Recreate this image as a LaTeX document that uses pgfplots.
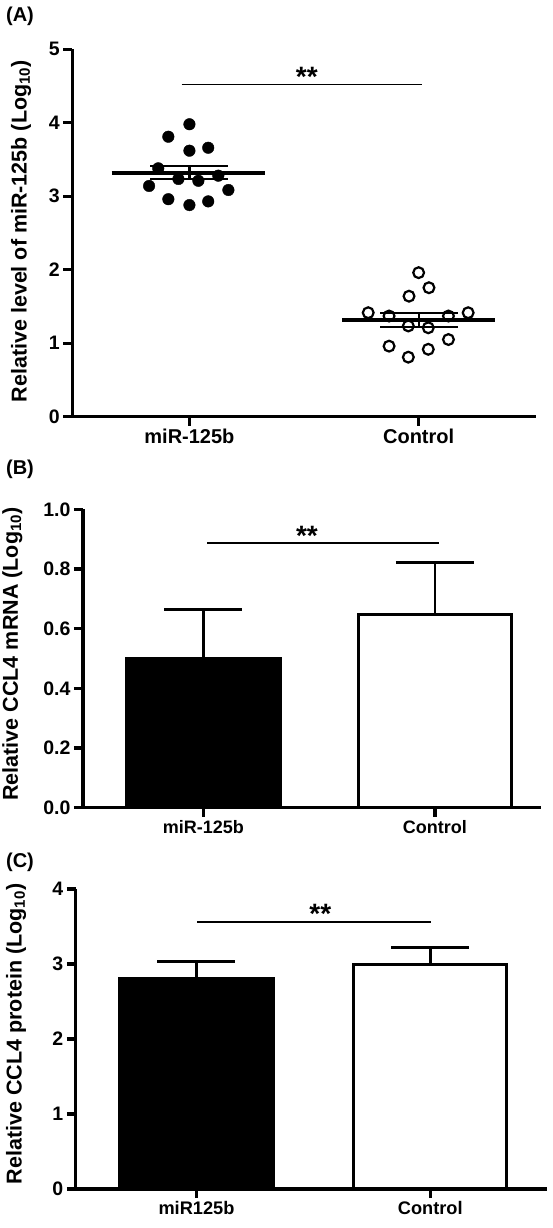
\documentclass[border=0pt]{standalone}
\usepackage{fontspec}
\setmainfont{Liberation Sans}
\usepackage{pgfplots}
\pgfplotsset{compat=1.18}

\tikzset{sigstar/.style={anchor=base, yshift=-2pt, font=\fontsize{28}{28}\selectfont\bfseries}}
\pgfplotsset{
  myax/.style={
    scale only axis, clip=false,
    axis x line=bottom, axis y line=left,
    axis line style={-, line width=3.3pt, black},
    tick style={line width=3.3pt, black},
    major tick length=9pt,
    tick align=outside,
    xtick={1,2},
    ymin=0,
    yticklabel style={font=\fontsize{19.5}{22}\selectfont\bfseries},
    xticklabel style={font=\fontsize{#1}{20}\selectfont\bfseries},
    ylabel style={font=\fontsize{21.5}{24}\selectfont\bfseries, anchor=center},
  },
  barstyle/.style={ybar, bar shift=0pt, bar width=153pt, draw=black, line width=3.3pt,
    error bars/.cd, y dir=plus, y explicit,
    error bar style={line width=2.6pt, black},
    error mark options={rotate=90, mark size=39pt, line width=2.6pt, black}},
}

\begin{document}
\begin{tikzpicture}
\path[use as bounding box] (0,0) rectangle (553pt,1228pt);

% ---------- Panel A ----------
\begin{axis}[myax=20,
  at={(72.3pt,811.3pt)}, anchor=south west,
  width=463.7pt, height=367.4pt,
  xmin=0.489, xmax=2.512, ymax=5,
  ytick={0,1,2,3,4,5}, yticklabels={0,1,2,3,4,5},
  xticklabels={miR-125b,Control},
  ylabel={Relative level of miR-125b (Log\textsubscript{10})},
  ylabel style={at={(axis description cs:-0.1106,0.505)}},
]
\addplot[only marks, mark=*, mark size=5.8pt, black] coordinates {
(1.000,3.98) (0.908,3.81) (1.000,3.62) (1.082,3.66) (0.864,3.38)
(1.126,3.28) (0.952,3.235) (1.039,3.21) (0.824,3.14) (1.170,3.085)
(0.908,2.96) (1.082,2.93) (1.000,2.88)
};
\addplot[only marks, mark=o, mark size=5.4pt, mark options={line width=2.2pt}, black] coordinates {
(2.000,1.96) (2.045,1.755) (1.958,1.64) (1.780,1.415) (2.216,1.415)
(1.871,1.37) (2.130,1.37) (1.955,1.235) (2.042,1.21) (2.130,1.05)
(1.871,0.96) (2.042,0.917) (1.955,0.81)
};
% mean and SEM
\addplot[line width=4pt, black] coordinates {(0.661,3.32) (1.330,3.32)};
\addplot[line width=2.2pt, black] coordinates {(0.828,3.416) (1.167,3.416)};
\addplot[line width=2.2pt, black] coordinates {(0.828,3.23) (1.167,3.23)};
\addplot[line width=2.2pt, black] coordinates {(1,3.23) (1,3.416)};
\addplot[line width=4pt, black] coordinates {(1.667,1.315) (2.334,1.315)};
\addplot[line width=2.2pt, black] coordinates {(1.832,1.415) (2.170,1.415)};
\addplot[line width=2.2pt, black] coordinates {(1.832,1.217) (2.170,1.217)};
\addplot[line width=2.2pt, black] coordinates {(2,1.217) (2,1.415)};
% significance
\addplot[line width=1.7pt, black] coordinates {(0.966,4.52) (2.015,4.52)};
\node[sigstar] at (axis cs:1.512,4.52) {**};
\end{axis}
\node[font=\fontsize{20}{22}\selectfont\bfseries] at (20pt,1211.3pt) {(A)};

% ---------- Panel B ----------
\begin{axis}[myax=18,
  at={(82.9pt,420.3pt)}, anchor=south west,
  width=458.5pt, height=298.4pt,
  xmin=0.479, xmax=2.46, ymax=1,
  ytick={0,0.2,0.4,0.6,0.8,1}, yticklabels={0.0,0.2,0.4,0.6,0.8,1.0},
  xticklabels={miR-125b,Control},
  ylabel={Relative CCL4 mRNA (Log\textsubscript{10})},
  ylabel style={at={(axis description cs:-0.154,0.515)}},
]
\addplot[fill=black, barstyle] coordinates {(1,0.498) +- (0,0.167)};
\addplot[fill=white, barstyle] coordinates {(2,0.648) +- (0,0.173)};
\addplot[line width=1.7pt, black] coordinates {(1.017,0.886) (2.018,0.886)};
\node[sigstar] at (axis cs:1.447,0.886) {**};
\end{axis}
\node[font=\fontsize{20}{22}\selectfont\bfseries] at (20pt,759pt) {(B)};

% ---------- Panel C ----------
\begin{axis}[myax=18.2,
  at={(75.8pt,39pt)}, anchor=south west,
  width=470.9pt, height=300pt,
  xmin=0.484, xmax=2.498, ymax=4,
  ytick={0,1,2,3,4}, yticklabels={0,1,2,3,4},
  xticklabels={miR125b,Control},
  ylabel={Relative CCL4 protein (Log\textsubscript{10})},
  ylabel style={at={(axis description cs:-0.127,0.517)}},
]
\addplot[fill=black, barstyle] coordinates {(1,2.80) +- (0,0.23)};
\addplot[fill=white, barstyle] coordinates {(2,2.996) +- (0,0.22)};
\addplot[line width=1.7pt, black] coordinates {(1.004,3.56) (2.003,3.56)};
\node[sigstar] at (axis cs:1.53,3.56) {**};
\end{axis}
\node[font=\fontsize{20}{22}\selectfont\bfseries] at (20pt,365.5pt) {(C)};
\end{tikzpicture}
\end{document}
